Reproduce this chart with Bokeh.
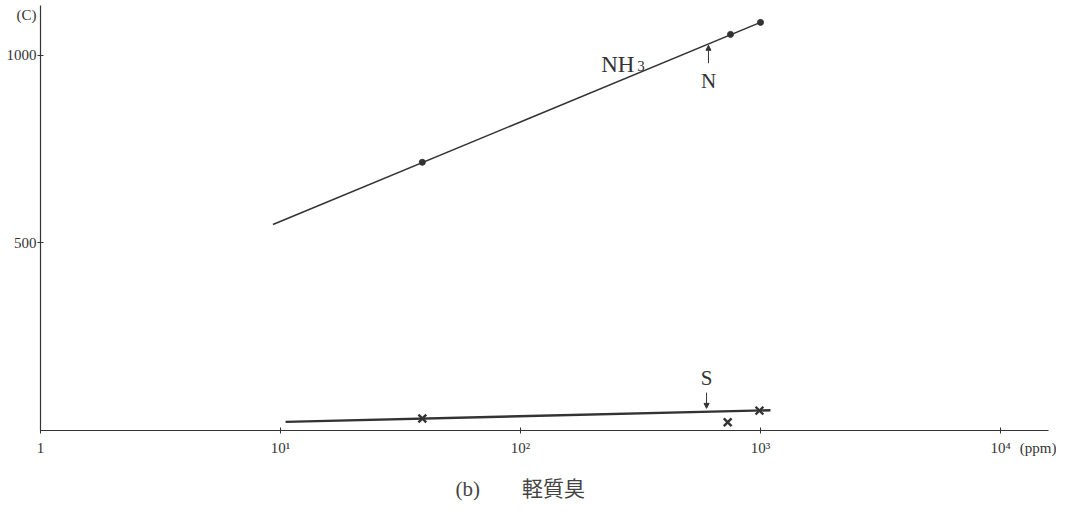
from bokeh.plotting import figure
from bokeh.models import Range1d, FixedTicker, Label, Arrow, NormalHead, Title, LinearAxis, LogAxis
from bokeh.embed import file_html
from bokeh.resources import INLINE

# --- data ---
nh3_line_x = [9.3, 1000]
nh3_line_y = [549, 1088]
nh3_pts_x = [39, 750, 1000]
nh3_pts_y = [715, 1056, 1088]

s_line_x = [10.5, 1100]
s_line_y = [23, 54]
s_pts_x = [39, 730, 990]
s_pts_y = [32, 22, 53]

x_ticks = [1, 10, 100, 1000, 10000]
x_tick_labels = ["1", "10¹", "10²", "10³", "10⁴"]
x_unit_pos = 14500
x_unit_label = "(ppm)"
y_ticks = [500, 1000]
y_tick_labels = ["500", "1000"]
y_unit_pos = 1107
y_unit_label = "(C)"

SERIF = "Liberation Serif"
INK = "#333333"

p = figure(width=1056, height=516, x_axis_type="log",
           x_range=Range1d(1, 10 ** 4.2), y_range=Range1d(0, 1133),
           output_backend="svg", toolbar_location=None,
           min_border_left=40, min_border_right=8,
           min_border_top=5, min_border_bottom=86)
p.outline_line_color = None
p.xgrid.visible = False
p.ygrid.visible = False
p.background_fill_color = "white"

# inner axes: line + ticks only
xa = p.xaxis[0]
xa.ticker = FixedTicker(ticks=x_ticks, minor_ticks=[])
xa.major_label_overrides = {t: "" for t in x_ticks}
xa.major_tick_in = 3
xa.major_tick_out = 3
xa.major_label_standoff = 0
xa.axis_line_color = INK
xa.major_tick_line_color = INK
xa.axis_line_width = 1.2

ya = p.yaxis[0]
ya.ticker = FixedTicker(ticks=y_ticks, minor_ticks=[])
ya.major_label_overrides = {t: "" for t in y_ticks}
ya.major_tick_in = 3
ya.major_tick_out = 3
ya.major_label_standoff = 0
ya.axis_line_color = INK
ya.major_tick_line_color = INK
ya.axis_line_width = 1.2

# outer axes: labels only (tick labels plus unit labels)
xl_ticks = x_ticks + [x_unit_pos]
xl = LogAxis(ticker=FixedTicker(ticks=xl_ticks, minor_ticks=[]),
             major_label_overrides={t: l for t, l in zip(xl_ticks, x_tick_labels + [x_unit_label])},
             axis_line_color=None, major_tick_line_color=None, minor_tick_line_color=None,
             major_tick_in=0, major_tick_out=0, major_label_standoff=6,
             major_label_text_font=SERIF, major_label_text_font_size="15px",
             major_label_text_color=INK)
p.add_layout(xl, "below")

yl_ticks = y_ticks + [y_unit_pos]
yl = LinearAxis(ticker=FixedTicker(ticks=yl_ticks, minor_ticks=[]),
                major_label_overrides={t: l for t, l in zip(yl_ticks, y_tick_labels + [y_unit_label])},
                axis_line_color=None, major_tick_line_color=None, minor_tick_line_color=None,
                major_tick_in=0, major_tick_out=0, major_label_standoff=1,
                major_label_text_font=SERIF, major_label_text_font_size="15px",
                major_label_text_color=INK)
p.add_layout(yl, "left")

# NH3 series
p.line(nh3_line_x, nh3_line_y, line_color=INK, line_width=1.6)
p.scatter(nh3_pts_x, nh3_pts_y, marker="circle", size=6, fill_color=INK, line_color=INK)

# S series
p.line(s_line_x, s_line_y, line_color=INK, line_width=2.4)
p.scatter(s_pts_x, s_pts_y, marker="x", size=11, line_color=INK, line_width=2.4)

# annotations
p.add_layout(Label(x=217, y=976, text="NH", text_font=SERIF, text_font_size="23px",
                   text_color=INK, text_baseline="alphabetic"))
p.add_layout(Label(x=217, y=976, x_offset=36, y_offset=-2, text="3", text_font=SERIF,
                   text_font_size="15px", text_color=INK, text_baseline="alphabetic"))
p.add_layout(Label(x=607, y=933, text="N", text_font=SERIF, text_font_size="21px",
                   text_color=INK, text_align="center", text_baseline="middle"))
p.add_layout(Arrow(x_start=607, y_start=979, x_end=607, y_end=1027, line_color=INK, line_width=1,
                   end=NormalHead(size=5, fill_color=INK, line_color=INK)))
p.add_layout(Label(x=596, y=139, text="S", text_font=SERIF, text_font_size="21px",
                   text_color=INK, text_align="center", text_baseline="middle"))
p.add_layout(Arrow(x_start=596, y_start=101, x_end=596, y_end=59, line_color=INK, line_width=1,
                   end=NormalHead(size=5, fill_color=INK, line_color=INK)))

# caption
p.add_layout(Title(text="(b)\u3000\u3000軽質臭", align="left", offset=415,
                   text_font="Liberation Serif, Noto Sans CJK JP", text_font_size="21px",
                   text_font_style="normal", text_color="#444444", standoff=32), "below")

open("out.html", "w").write(file_html(p, INLINE))
